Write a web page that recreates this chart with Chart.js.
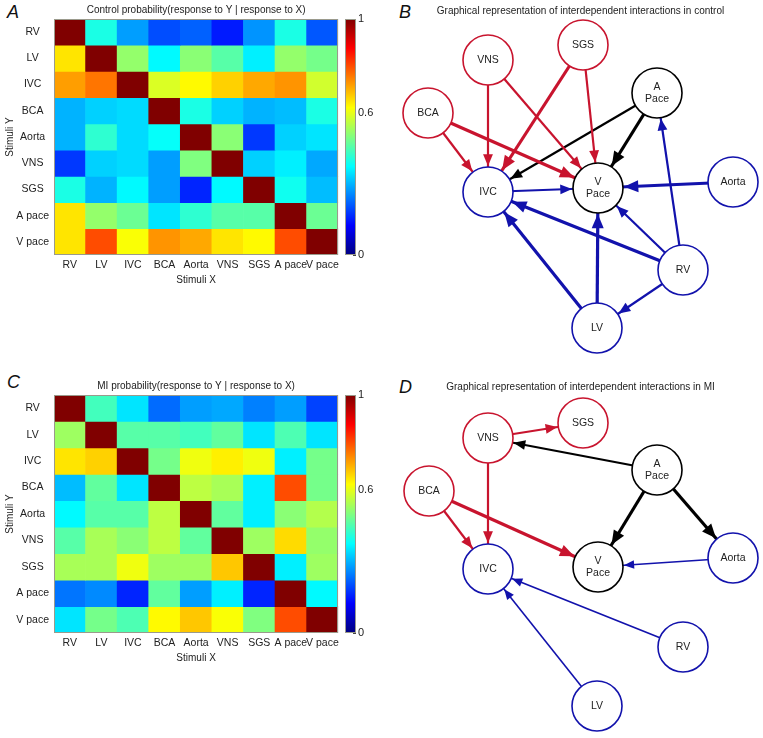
<!DOCTYPE html>
<html>
<head>
<meta charset="utf-8">
<script src="https://cdn.jsdelivr.net/npm/chart.js@4"></script>
<style>
  body { margin: 0; background: #fff; width: 763px; height: 738px; overflow: hidden; position: relative; font-family: 'Liberation Sans', Arial, sans-serif; }
  canvas { position: absolute; }
  .panel { position: absolute; font-size: 18px; font-style: italic; color: #111; }
</style>
</head>
<body>
<div class="panel" style="left:7px;top:2px">A</div>
<div class="panel" style="left:399px;top:2px">B</div>
<div class="panel" style="left:7px;top:372px">C</div>
<div class="panel" style="left:399px;top:377px">D</div>

<canvas id="heatA" width="343" height="290" style="left:0;top:0"></canvas>
<canvas id="barA" width="30" height="290" style="left:345px;top:0"></canvas>
<canvas id="netB" width="365" height="355" style="left:398px;top:0"></canvas>
<canvas id="heatC" width="343" height="292" style="left:0;top:376px"></canvas>
<canvas id="barC" width="30" height="292" style="left:345px;top:376px"></canvas>
<canvas id="netD" width="365" height="368" style="left:398px;top:370px"></canvas>

<script>
// stimuli, same order on both axes
const stimuli = ['RV', 'LV', 'IVC', 'BCA', 'Aorta', 'VNS', 'SGS', 'A pace', 'V pace'];

// P(response to Y | response to X), rows = Y, columns = X
const controlProb = [
  [1.00, 0.40, 0.28, 0.20, 0.22, 0.15, 0.27, 0.40, 0.21],
  [0.65, 1.00, 0.52, 0.37, 0.51, 0.46, 0.36, 0.52, 0.49],
  [0.72, 0.76, 1.00, 0.59, 0.63, 0.67, 0.71, 0.73, 0.58],
  [0.30, 0.33, 0.34, 1.00, 0.40, 0.33, 0.30, 0.31, 0.40],
  [0.30, 0.42, 0.34, 0.38, 1.00, 0.51, 0.18, 0.33, 0.35],
  [0.18, 0.33, 0.34, 0.28, 0.50, 1.00, 0.33, 0.36, 0.29],
  [0.40, 0.30, 0.37, 0.28, 0.16, 0.37, 1.00, 0.39, 0.31],
  [0.65, 0.52, 0.48, 0.35, 0.42, 0.46, 0.46, 1.00, 0.48],
  [0.65, 0.80, 0.62, 0.73, 0.71, 0.65, 0.63, 0.80, 1.00]
];

const miProb = [
  [1.00, 0.44, 0.35, 0.23, 0.28, 0.29, 0.25, 0.28, 0.19],
  [0.53, 1.00, 0.46, 0.46, 0.44, 0.47, 0.35, 0.45, 0.35],
  [0.65, 0.67, 1.00, 0.49, 0.61, 0.64, 0.61, 0.36, 0.49],
  [0.31, 0.47, 0.35, 1.00, 0.56, 0.54, 0.36, 0.80, 0.49],
  [0.37, 0.46, 0.46, 0.56, 1.00, 0.47, 0.36, 0.51, 0.55],
  [0.46, 0.54, 0.51, 0.56, 0.47, 1.00, 0.53, 0.66, 0.52],
  [0.54, 0.54, 0.61, 0.53, 0.53, 0.68, 1.00, 0.36, 0.53],
  [0.24, 0.26, 0.16, 0.47, 0.28, 0.36, 0.16, 1.00, 0.37],
  [0.35, 0.49, 0.45, 0.63, 0.68, 0.62, 0.50, 0.80, 1.00]
];

const colorbarLabels = [0, 0.6, 1];

// network nodes
const nodeNames = ['SGS', 'VNS', 'BCA', 'A\nPace', 'IVC', 'V\nPace', 'Aorta', 'RV', 'LV'];
const nodeGroup = ['stim', 'stim', 'stim', 'pace', 'heart', 'pace', 'heart', 'heart', 'heart'];

// layout positions of the nodes (graph units)
const controlNodeX = [203, 108, 48, 277, 108, 218, 353, 303, 217];
const controlNodeY = [45, 60, 113, 93, 192, 188, 182, 270, 328];
const miNodeX = [203, 108, 49, 277, 108, 218, 353, 303, 217];
const miNodeY = [53, 68, 121, 100, 199, 197, 188, 277, 336];

// edges: source, target, strength (1 weak .. 3 strong)
const controlFrom = ['BCA', 'BCA', 'VNS', 'VNS', 'SGS', 'SGS', 'A\nPace', 'A\nPace', 'IVC', 'Aorta', 'RV', 'RV', 'RV', 'RV', 'LV', 'LV'];
const controlTo = ['IVC', 'V\nPace', 'IVC', 'V\nPace', 'IVC', 'V\nPace', 'IVC', 'V\nPace', 'V\nPace', 'V\nPace', 'A\nPace', 'IVC', 'V\nPace', 'LV', 'IVC', 'V\nPace'];
const controlStrength = [2, 3, 2, 2, 3, 2, 2, 3, 2, 3, 2, 3, 2, 2, 3, 3];

const miFrom = ['VNS', 'VNS', 'BCA', 'BCA', 'A\nPace', 'A\nPace', 'A\nPace', 'Aorta', 'RV', 'LV'];
const miTo = ['SGS', 'IVC', 'IVC', 'V\nPace', 'VNS', 'V\nPace', 'Aorta', 'V\nPace', 'IVC', 'IVC'];
const miStrength = [2, 2, 2, 3, 2, 3, 3, 1, 1, 1];

const FONT = "'Liberation Sans', Arial, sans-serif";
Chart.defaults.font.family = FONT;
Chart.defaults.color = '#222';

const groupColor = { stim: '#c8142e', pace: '#000000', heart: '#1212ac' };
const strengthWidth = [0, 1.6, 2.2, 3.2];
const NODE_R = 25;

function jet(v) {
  const c = x => Math.round(255 * Math.max(0, Math.min(1, x)));
  return 'rgb(' + c(1.5 - Math.abs(4 * v - 3)) + ',' + c(1.5 - Math.abs(4 * v - 2)) + ',' + c(1.5 - Math.abs(4 * v - 1)) + ')';
}

const framePlugin = {
  id: 'frame',
  afterDraw(chart) {
    const a = chart.chartArea, ctx = chart.ctx;
    ctx.save();
    ctx.strokeStyle = '#9a9a8c';
    ctx.lineWidth = 1;
    ctx.strokeRect(Math.round(a.left) + 0.5, Math.round(a.top) + 0.5, Math.round(a.right - a.left) - 1, Math.round(a.bottom - a.top) - 1);
    ctx.restore();
  }
};

function makeHeatmap(id, title, matrix, bottomH) {
  new Chart(document.getElementById(id), {
    type: 'bar',
    data: {
      labels: stimuli,
      datasets: matrix.map((row, i) => ({
        label: stimuli[i],
        data: row.map(() => 1),
        backgroundColor: row.map(jet),
        borderWidth: 0,
        barPercentage: 1,
        categoryPercentage: 1
      }))
    },
    options: {
      responsive: false,
      animation: false,
      layout: { padding: 0 },
      plugins: {
        legend: { display: false },
        tooltip: { enabled: false },
        title: { display: true, fullSize: false, text: title, font: { size: 10, weight: 'normal' }, padding: { top: 4, bottom: 3 } }
      },
      scales: {
        x: {
          stacked: true,
          grid: { display: false, drawTicks: false },
          border: { display: false },
          ticks: { autoSkip: false, maxRotation: 0, padding: 4, font: { size: 10.5 } },
          title: { display: true, text: 'Stimuli X', font: { size: 10 }, padding: { top: 0, bottom: 4 } },
          afterFit: s => { s.height = bottomH; }
        },
        y: {
          stacked: true,
          min: 0,
          max: stimuli.length,
          reverse: true,
          grid: { display: false, drawTicks: false },
          border: { display: false },
          afterBuildTicks: s => { s.ticks = stimuli.map((_, i) => ({ value: i + 0.5 })); },
          ticks: { callback: v => stimuli[Math.floor(v)], padding: 5, crossAlign: 'center', font: { size: 10.5 } },
          title: { display: true, text: 'Stimuli Y', font: { size: 10 }, padding: { top: 4, bottom: 0 } },
          afterFit: s => { s.width = 54; }
        }
      }
    },
    plugins: [framePlugin]
  });
}

function makeColorbar(id, bottomPad) {
  new Chart(document.getElementById(id), {
    type: 'bar',
    data: {
      labels: [''],
      datasets: [{
        data: [1],
        borderWidth: 0,
        barPercentage: 1,
        categoryPercentage: 1,
        backgroundColor: c => {
          const a = c.chart.chartArea;
          if (!a) return '#888';
          const g = c.chart.ctx.createLinearGradient(0, a.bottom, 0, a.top);
          for (let k = 0; k <= 16; k++) g.addColorStop(k / 16, jet(k / 16));
          return g;
        }
      }]
    },
    options: {
      responsive: false,
      animation: false,
      layout: { padding: { top: 19, bottom: bottomPad, left: 0, right: 0 } },
      plugins: { legend: { display: false }, tooltip: { enabled: false } },
      scales: {
        x: { display: false },
        y: {
          position: 'right',
          min: 0,
          max: 1,
          border: { display: false },
          grid: { drawOnChartArea: false, drawTicks: true, tickLength: -3, color: '#444' },
          ticks: {
            stepSize: 0.1,
            padding: 5,
            font: { size: 11 },
            callback: v => colorbarLabels.includes(+v.toFixed(1)) ? String(+v.toFixed(1)) : ''
          },
          afterFit: s => { s.width = 19; }
        }
      }
    },
    plugins: [framePlugin]
  });
}

const arrowPlugin = {
  id: 'arrows',
  afterDatasetsDraw(chart) {
    const ctx = chart.ctx;
    chart.data.datasets.forEach((ds, i) => {
      if (!ds.isEdge) return;
      const pts = chart.getDatasetMeta(i).data;
      const x0 = pts[0].x, y0 = pts[0].y, x1 = pts[1].x, y1 = pts[1].y;
      const len = Math.hypot(x1 - x0, y1 - y0);
      const ux = (x1 - x0) / len, uy = (y1 - y0) / len;
      const tipX = x1 - ux * (NODE_R + 1), tipY = y1 - uy * (NODE_R + 1);
      const hl = 6 + 2.6 * ds.borderWidth, hw = hl * 0.42;
      const bx = tipX - ux * hl, by = tipY - uy * hl;
      ctx.save();
      ctx.fillStyle = ds.borderColor;
      ctx.beginPath();
      ctx.moveTo(tipX, tipY);
      ctx.lineTo(bx - uy * hw, by + ux * hw);
      ctx.lineTo(bx + uy * hw, by - ux * hw);
      ctx.closePath();
      ctx.fill();
      ctx.restore();
    });
  }
};

const nodeLabelPlugin = {
  id: 'nodeLabels',
  afterDatasetsDraw(chart) {
    const ctx = chart.ctx;
    const pts = chart.getDatasetMeta(0).data;
    ctx.save();
    ctx.fillStyle = '#222';
    ctx.font = '10.5px ' + FONT;
    ctx.textAlign = 'center';
    ctx.textBaseline = 'middle';
    nodeNames.forEach((name, j) => {
      const lines = name.split('\n');
      lines.forEach((ln, k) => {
        ctx.fillText(ln, pts[j].x, pts[j].y + (k - (lines.length - 1) / 2) * 12.5);
      });
    });
    ctx.restore();
  }
};

function makeNetwork(id, title, nx, ny, from, to, strength, h, titleTop) {
  const pos = name => {
    const j = nodeNames.indexOf(name);
    return { x: nx[j], y: ny[j] };
  };
  const edges = from.map((f, k) => ({
    isEdge: true,
    data: [pos(f), pos(to[k])],
    showLine: true,
    borderColor: groupColor[nodeGroup[nodeNames.indexOf(f)]],
    borderWidth: strengthWidth[strength[k]],
    pointRadius: 0,
    order: 1,
    clip: false
  }));
  const nodes = {
    data: nodeNames.map((_, j) => ({ x: nx[j], y: ny[j] })),
    pointRadius: NODE_R,
    pointBackgroundColor: '#fff',
    pointBorderColor: nodeGroup.map(g => groupColor[g]),
    pointBorderWidth: 1.6,
    showLine: false,
    order: 0,
    clip: false
  };
  new Chart(document.getElementById(id), {
    type: 'scatter',
    data: { datasets: [nodes].concat(edges) },
    options: {
      responsive: false,
      animation: false,
      layout: { autoPadding: false, padding: 0 },
      plugins: {
        legend: { display: false },
        tooltip: { enabled: false },
        title: { display: true, fullSize: false, text: title, font: { size: 10, weight: 'normal', lineHeight: 1.2 }, padding: { top: titleTop, bottom: 3 } }
      },
      scales: {
        x: { display: false, min: 18, max: 383 },
        y: { display: false, min: titleTop + 15, max: h, reverse: true }
      }
    },
    plugins: [arrowPlugin, nodeLabelPlugin]
  });
}

makeHeatmap('heatA', 'Control probability(response to Y | response to X)', controlProb, 35);
makeColorbar('barA', 35);
makeHeatmap('heatC', 'MI probability(response to Y | response to X)', miProb, 35);
makeColorbar('barC', 35);
makeNetwork('netB', 'Graphical representation of interdependent interactions in control',
  controlNodeX, controlNodeY, controlFrom, controlTo, controlStrength, 355, 5);
makeNetwork('netD', 'Graphical representation of interdependent interactions in MI',
  miNodeX, miNodeY, miFrom, miTo, miStrength, 368, 11);
</script>
</body>
</html>
